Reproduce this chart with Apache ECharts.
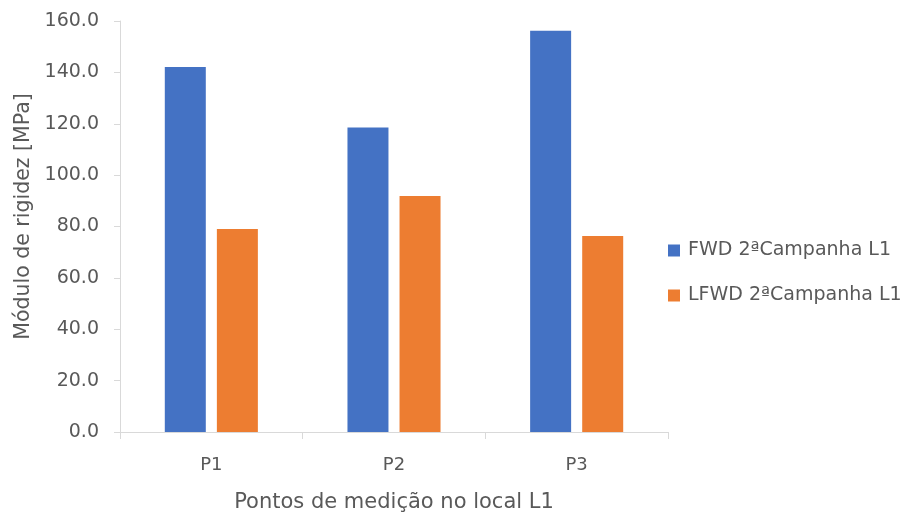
<!DOCTYPE html>
<html>
<head>
<meta charset="utf-8">
<script src="https://cdn.jsdelivr.net/npm/echarts@6/dist/echarts.min.js"></script>
<style>
  html, body { margin: 0; padding: 0; background: #ffffff; }
  #chart { width: 905px; height: 513px; }
</style>
</head>
<body>
<div id="chart"></div>
<script>
// Measurement points and stiffness modulus values [MPa]
const categories = ['P1', 'P2', 'P3'];
const fwdValues = [142.1, 118.5, 156.2];
const lfwdValues = [79.0, 91.9, 76.3];
const seriesNames = ['FWD 2ªCampanha L1', 'LFWD 2ªCampanha L1'];

const FONT = 'DejaVu Sans';
const TEXT = '#595959';

const chart = echarts.init(document.getElementById('chart'), null, { renderer: 'canvas' });

chart.setOption({
  animation: false,
  backgroundColor: '#ffffff',
  textStyle: { fontFamily: FONT, color: TEXT },
  grid: { left: 120, right: 237, top: 21, bottom: 81, containLabel: false, outerBoundsMode: 'none' },
  legend: {
    orient: 'vertical',
    left: 668,
    top: 241,
    padding: 0,
    itemWidth: 12,
    itemHeight: 12,
    itemGap: 26,
    icon: 'rect',
    textStyle: { fontFamily: FONT, fontSize: 19, color: TEXT, padding: [0, 0, 0, 3] },
    data: seriesNames
  },
  xAxis: {
    type: 'category',
    data: categories,
    name: 'Pontos de medição no local L1',
    nameLocation: 'middle',
    nameGap: 60,
    nameTextStyle: { fontFamily: FONT, fontSize: 21, color: TEXT },
    axisLine: { show: true, lineStyle: { color: '#d9d9d9', width: 1 } },
    axisTick: { show: true, length: 7, lineStyle: { color: '#d9d9d9' } },
    axisLabel: { fontFamily: FONT, fontSize: 18, color: TEXT, margin: 24 },
    splitLine: { show: false }
  },
  yAxis: {
    type: 'value',
    min: 0,
    max: 160,
    interval: 20,
    name: 'Módulo de rigidez [MPa]',
    nameLocation: 'middle',
    nameGap: 86,
    nameRotate: 90,
    nameTextStyle: { fontFamily: FONT, fontSize: 20.5, color: TEXT, padding: [0, 0, 0, 20] },
    axisLine: { show: true, lineStyle: { color: '#d9d9d9', width: 1 } },
    axisTick: { show: true, length: 6, inside: false, lineStyle: { color: '#d9d9d9' } },
    axisLabel: {
      fontFamily: FONT, fontSize: 19, color: TEXT, margin: 21,
      formatter: v => v.toFixed(1)
    },
    splitLine: { show: false }
  },
  series: [
    {
      name: seriesNames[0],
      type: 'bar',
      data: fwdValues,
      barWidth: 41,
      barGap: '27%',
      itemStyle: { color: '#4472c4' }
    },
    {
      name: seriesNames[1],
      type: 'bar',
      data: lfwdValues,
      barWidth: 41,
      itemStyle: { color: '#ed7d31' }
    }
  ]
});
</script>
</body>
</html>
